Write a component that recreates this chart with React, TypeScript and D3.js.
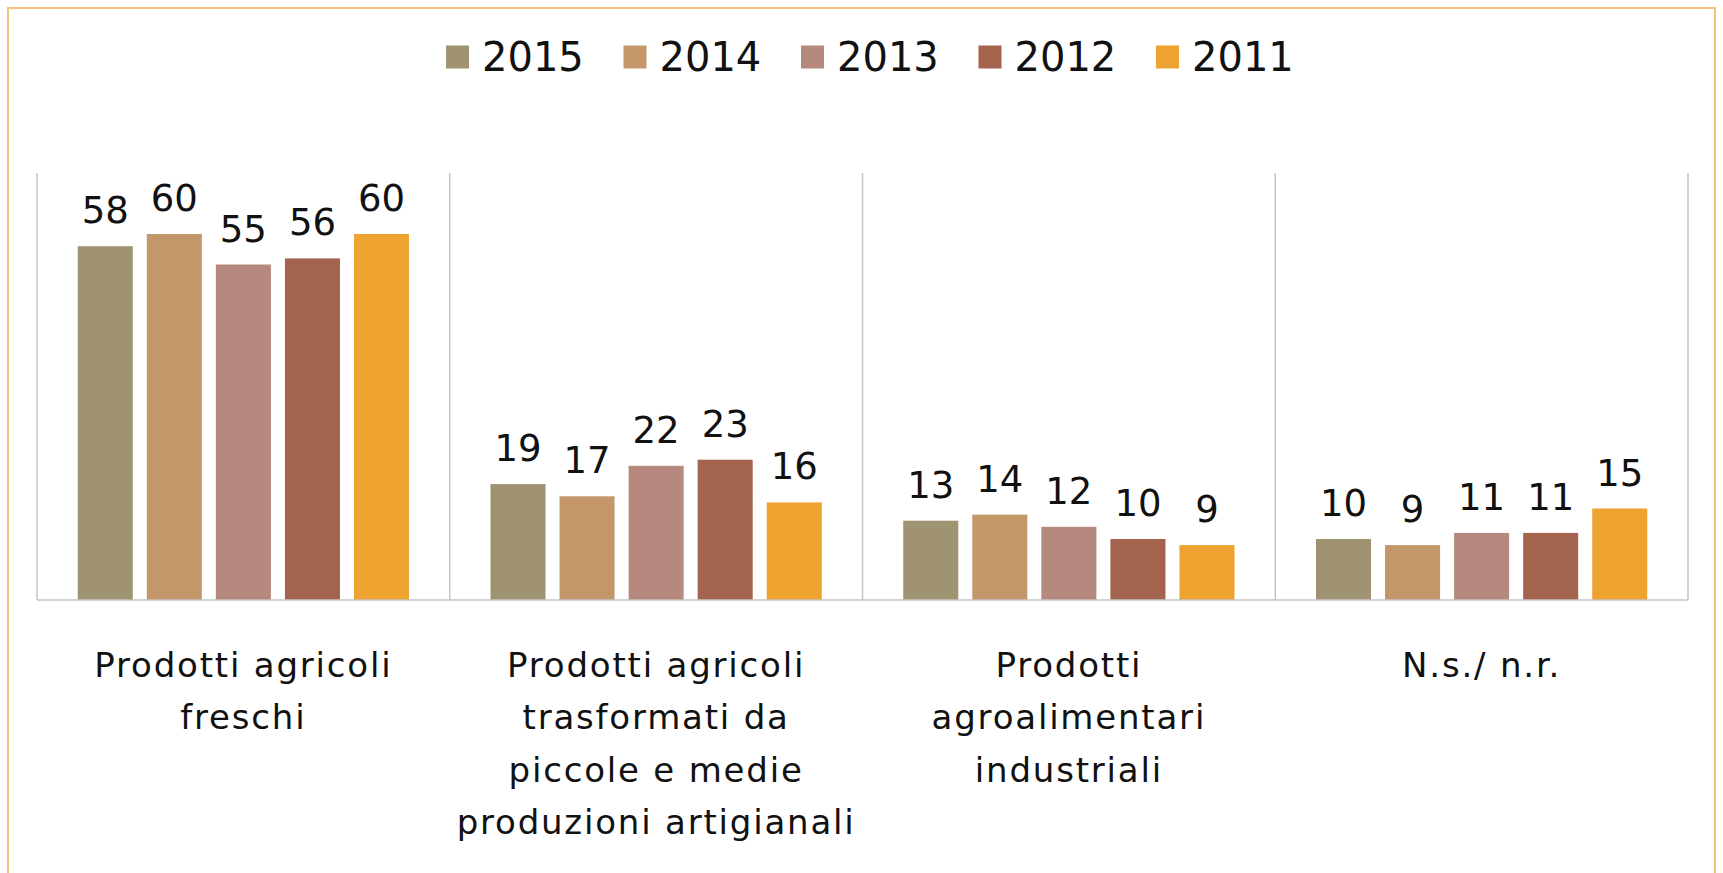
import React from 'react';
import * as d3 from 'd3';

// Categories (one entry per label line) and yearly series
const categoryLines: string[][] = [
  ['Prodotti agricoli', 'freschi'],
  ['Prodotti agricoli', 'trasformati da', 'piccole e medie', 'produzioni artigianali'],
  ['Prodotti', 'agroalimentari', 'industriali'],
  ['N.s./ n.r.'],
];
const categories = categoryLines.map(l => l.join(' '));

const years = ['2015', '2014', '2013', '2012', '2011'];
const values2015 = [58, 19, 13, 10];
const values2014 = [60, 17, 14, 9];
const values2013 = [55, 22, 12, 11];
const values2012 = [56, 23, 10, 11];
const values2011 = [60, 16, 9, 15];
const seriesValues = [values2015, values2014, values2013, values2012, values2011];
const colors = ['#a09372', '#c4976b', '#b6897e', '#a3634d', '#eea22f'];

const W = 1723;
const H = 873;
const FONT = '"DejaVu Sans", sans-serif';

const App: React.FC = () => {
  const plot = { left: 37, right: 1688, top: 173, bottom: 600 };

  const x = d3.scaleBand<string>().domain(categories).range([plot.left, plot.right]).padding(0);
  const xInner = d3.scaleBand<string>()
    .domain(years)
    .range([0, x.bandwidth()])
    .paddingInner(0.203)
    .paddingOuter(0.59);
  const y = d3.scaleLinear().domain([0, 70]).range([plot.bottom, plot.top]);

  const dividers = [...categories.map(c => x(c) as number), plot.right];

  // legend items spaced evenly around the chart centre
  const legendStep = 177.5;
  const legendStart = 446;

  return (
    <div style={{ position: 'absolute', left: 0, top: 0, width: W, height: H, background: '#fff' }}>
      <svg width={W} height={H} style={{ display: 'block' }}>
        <rect x={0} y={0} width={W} height={H} fill="#fff" />
        {/* frame */}
        <rect x={8} y={8} width={1707} height={H + 20} fill="none" stroke="#f4c27a" strokeWidth={2} />

        {/* legend */}
        {years.map((yr, i) => (
          <g key={yr} transform={`translate(${legendStart + i * legendStep},0)`}>
            <rect x={0} y={45.5} width={23} height={23} fill={colors[i]} />
            <text x={36} y={71} fontFamily={FONT} fontSize={40} fill="#111">{yr}</text>
          </g>
        ))}

        {/* category dividers */}
        {dividers.map((dx, i) => (
          <line key={i} x1={dx} x2={dx} y1={plot.top} y2={plot.bottom} stroke="#c4c4c4" strokeWidth={1.5} />
        ))}

        {/* bars */}
        {categories.map((c, ci) => (
          <g key={c} transform={`translate(${x(c)},0)`}>
            {years.map((yr, si) => {
              const v = seriesValues[si][ci];
              const bx = xInner(yr) as number;
              return (
                <g key={yr}>
                  <rect x={bx} y={y(v)} width={xInner.bandwidth()} height={y(0) - y(v)} fill={colors[si]} />
                  <text
                    x={bx + xInner.bandwidth() / 2}
                    y={y(v) - 23}
                    textAnchor="middle"
                    fontFamily={FONT}
                    fontSize={37}
                    fill="#111"
                  >
                    {v}
                  </text>
                </g>
              );
            })}
          </g>
        ))}

        {/* baseline */}
        <line x1={plot.left} x2={plot.right} y1={plot.bottom} y2={plot.bottom} stroke="#c4c4c4" strokeWidth={1.5} />

        {/* category labels */}
        {categoryLines.map((lines, ci) => (
          <text
            key={ci}
            x={(x(categories[ci]) as number) + x.bandwidth() / 2}
            y={677}
            textAnchor="middle"
            fontFamily={FONT}
            fontSize={34}
            letterSpacing={1.8}
            fill="#111"
          >
            {lines.map((ln, li) => (
              <tspan key={li} x={(x(categories[ci]) as number) + x.bandwidth() / 2} dy={li === 0 ? 0 : 52.4}>
                {ln}
              </tspan>
            ))}
          </text>
        ))}
      </svg>
    </div>
  );
};

export default App;
